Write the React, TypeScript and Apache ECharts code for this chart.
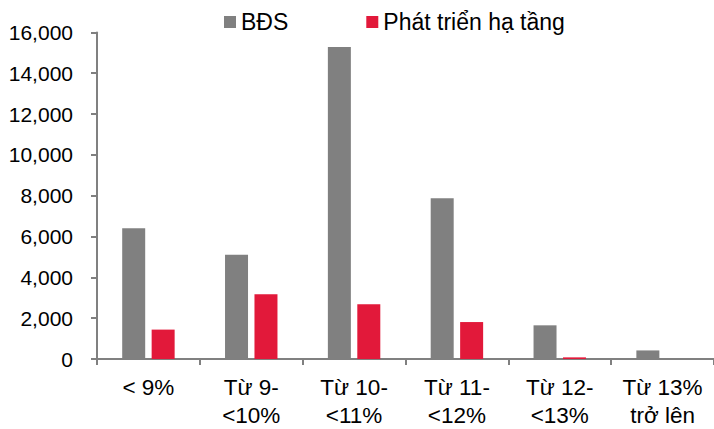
import React, { useEffect, useRef } from "react";
import * as echarts from "echarts";

const categories = ["< 9%", "Từ 9-\n<10%", "Từ 10-\n<11%", "Từ 11-\n<12%", "Từ 12-\n<13%", "Từ 13%\ntrở lên"];
const seriesNames = ["BĐS", "Phát triển hạ tầng"];
const bdsValues = [6400, 5110, 15280, 7880, 1650, 420];
const infraValues = [1440, 3170, 2680, 1810, 80, 0];
const yMin = 0;
const yMax = 16000;
const yInterval = 2000;

const FONT = "'Liberation Sans', Arial, sans-serif";

export default function App() {
  const ref = useRef<HTMLDivElement>(null);
  useEffect(() => {
    if (!ref.current) return;
    const chart = echarts.init(ref.current, null, { renderer: "svg" });
    chart.setOption({
      animation: false,
      textStyle: { fontFamily: FONT },
      legend: {
        data: seriesNames,
        left: 224,
        top: 10,
        padding: 0,
        itemWidth: 12,
        itemHeight: 12,
        itemGap: 78,
        icon: "rect",
        textStyle: { fontFamily: FONT, fontSize: 23, color: "#000", lineHeight: 24 },
      },
      grid: { left: 97, right: -6, top: 32.4, bottom: 66.3, containLabel: false },
      xAxis: {
        type: "category",
        data: categories,
        axisLine: { lineStyle: { color: "#808080", width: 2 } },
        axisTick: { show: true, length: 6, lineStyle: { color: "#808080", width: 2 } },
        axisLabel: {
          fontFamily: FONT,
          fontSize: 22.5,
          color: "#000",
          lineHeight: 28,
          margin: 14,
          interval: 0,
        },
      },
      yAxis: {
        type: "value",
        min: yMin,
        max: yMax,
        interval: yInterval,
        splitLine: { show: false },
        axisLine: { show: true, lineStyle: { color: "#808080", width: 2 } },
        axisTick: { show: true, length: 6, lineStyle: { color: "#808080", width: 2 } },
        axisLabel: {
          fontFamily: FONT,
          fontSize: 21,
          color: "#000",
          margin: 24,
          formatter: (v: number) => v.toLocaleString("en-US"),
        },
      },
      series: [
        {
          name: seriesNames[0],
          type: "bar",
          data: bdsValues,
          barWidth: 23,
          barGap: "28%",
          itemStyle: { color: "#808080" },
        },
        {
          name: seriesNames[1],
          type: "bar",
          data: infraValues,
          barWidth: 23,
          barGap: "28%",
          itemStyle: { color: "#E2193A" },
        },
      ],
    });
    return () => chart.dispose();
  }, []);
  return (
    <div
      ref={ref}
      style={{ position: "fixed", left: 0, top: 0, width: 714, height: 429, background: "#fff" }}
    />
  );
}
